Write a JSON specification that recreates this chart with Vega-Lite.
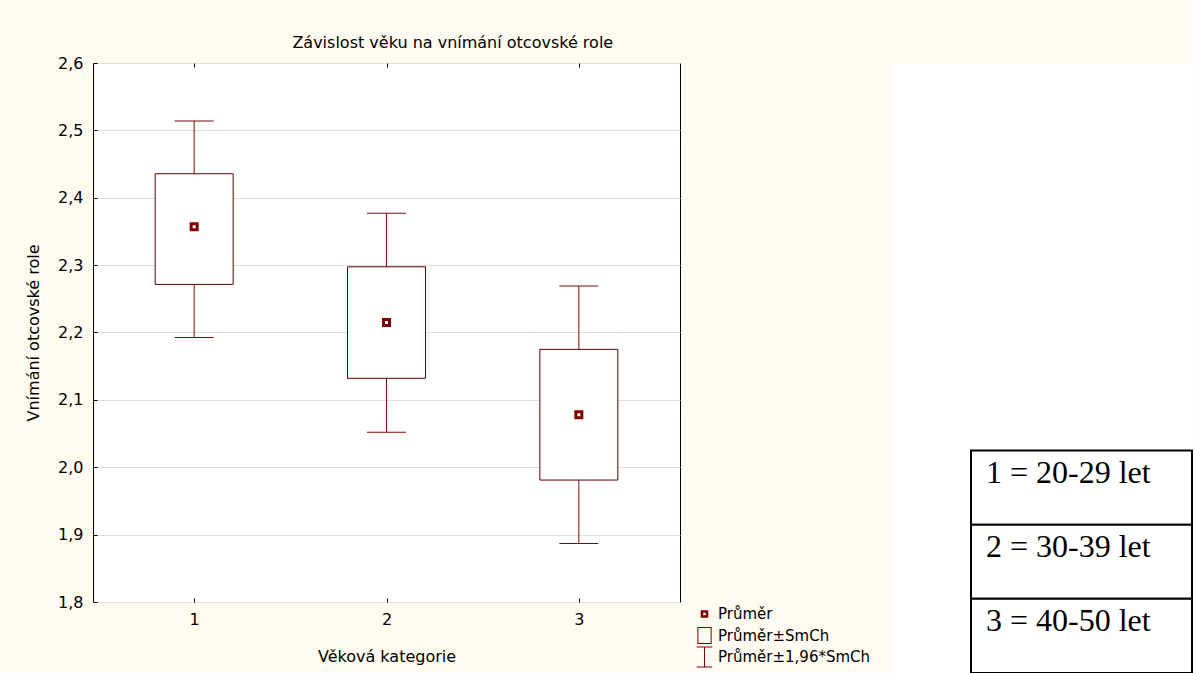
{
  "$schema": "https://vega.github.io/schema/vega-lite/v6.json",
  "background": "#fffbf0",
  "padding": {"left": 25, "top": 34, "right": 0, "bottom": 0},
  "spacing": 211,
  "config": {
    "font": "DejaVu Sans"
  },
  "hconcat": [
    {
      "width": 587,
      "height": 539,
      "view": {"stroke": "black", "strokeWidth": 1, "fill": "white"},
      "title": {
        "text": "Závislost věku na vnímání otcovské role",
        "font": "DejaVu Sans",
        "fontSize": 16,
        "fontWeight": "normal",
        "color": "black",
        "anchor": "middle",
        "frame": "bounds",
        "dx": 100,
        "offset": 4
      },
      "resolve": {"axis": {"x": "independent"}},
      "data": {
        "values": [
          {"kat": 1, "mean": 2.357, "se_lo": 2.2714, "se_hi": 2.4356, "ci_lo": 2.1926, "ci_hi": 2.514},
          {"kat": 2, "mean": 2.215, "se_lo": 2.132, "se_hi": 2.2975, "ci_lo": 2.052, "ci_hi": 2.377},
          {"kat": 3, "mean": 2.078, "se_lo": 1.981, "se_hi": 2.175, "ci_lo": 1.887, "ci_hi": 2.269}
        ]
      },
      "encoding": {
        "x": {
          "field": "kat",
          "type": "quantitative",
          "scale": {"domain": [0.5, 3.5], "nice": false, "zero": false},
          "axis": null
        }
      },
      "layer": [
        {
          "mark": {"type": "rule", "color": "#7a0c0c", "strokeWidth": 1},
          "encoding": {
            "x": {
              "field": "kat",
              "type": "quantitative",
              "scale": {"domain": [0.5, 3.5], "nice": false, "zero": false},
              "axis": {
                "orient": "bottom",
                "title": "Věková kategorie",
                "values": [1, 2, 3],
                "format": "d",
                "grid": false,
                "domain": false,
                "ticks": true,
                "tickSize": -4,
                "tickColor": "black",
                "labelPadding": 13,
                "labelFont": "DejaVu Sans",
                "labelFontSize": 16,
                "labelColor": "black",
                "titleFont": "DejaVu Sans",
                "titleFontSize": 16,
                "titleFontWeight": "normal",
                "titleColor": "black",
                "titlePadding": 21
              }
            },
            "y": {
              "field": "ci_lo",
              "type": "quantitative",
              "scale": {"domain": [1.8, 2.6], "nice": false, "zero": false},
              "axis": {
                "title": "Vnímání otcovské role",
                "values": [1.8, 1.9, 2.0, 2.1, 2.2, 2.3, 2.4, 2.5, 2.6],
                "labelExpr": "replace(format(datum.value, '.1f'), '.', ',')",
                "grid": true,
                "gridColor": "#dcdcdc",
                "gridWidth": 1,
                "domain": false,
                "ticks": true,
                "tickSize": -4,
                "tickColor": "black",
                "labelPadding": 14,
                "labelFont": "DejaVu Sans",
                "labelFontSize": 16,
                "labelColor": "black",
                "titleFont": "DejaVu Sans",
                "titleFontSize": 16,
                "titleFontWeight": "normal",
                "titleColor": "black",
                "titlePadding": 16
              }
            },
            "y2": {"field": "ci_hi"}
          }
        },
        {
          "mark": {"type": "tick", "orient": "horizontal", "size": 39, "thickness": 1, "color": "#7a0c0c", "opacity": 1},
          "encoding": {
            "x": {
              "field": "kat",
              "type": "quantitative",
              "scale": {"domain": [0.5, 3.5], "nice": false, "zero": false},
              "axis": {
                "orient": "top",
                "title": null,
                "values": [1, 2, 3],
                "labels": false,
                "grid": false,
                "domain": false,
                "ticks": true,
                "tickSize": -4,
                "tickColor": "black"
              }
            },
            "y": {"field": "ci_hi", "type": "quantitative"}
          }
        },
        {
          "mark": {"type": "tick", "orient": "horizontal", "size": 39, "thickness": 1, "color": "#7a0c0c", "opacity": 1},
          "encoding": {"y": {"field": "ci_lo", "type": "quantitative"}}
        },
        {
          "mark": {"type": "bar", "width": 78, "fill": "white", "stroke": "#5a0000", "strokeWidth": 1, "opacity": 1},
          "encoding": {
            "y": {"field": "se_lo", "type": "quantitative"},
            "y2": {"field": "se_hi"}
          }
        },
        {
          "mark": {"type": "point", "filled": true, "size": 625, "color": "#800000", "strokeWidth": 0, "opacity": 1},
          "encoding": {
            "y": {"field": "mean", "type": "quantitative"},
            "shape": {
              "datum": "Průměr",
              "scale": {
                "domain": ["Průměr", "Průměr±SmCh", "Průměr±1,96*SmCh"],
                "range": [
                  "M-0.36,-0.36H0.36V0.36H-0.36Z M-0.12,-0.12V0.12H0.12V-0.12Z",
                  "M-0.68,-0.8H0.68V0.8H-0.68Z M-0.584,-0.704V0.704H0.584V-0.704Z",
                  "M-0.74,-1H0.74V-0.904H-0.74Z M-0.048,-0.904H0.048V0.904H-0.048Z M-0.74,0.904H0.74V1H-0.74Z"
                ]
              },
              "legend": {
                "title": null,
                "orient": "none",
                "legendX": 601,
                "legendY": 540.5,
                "padding": 0,
                "symbolSize": 441,
                "symbolFillColor": "#7a0a0a",
                "symbolStrokeWidth": 0,
                "symbolOpacity": 1,
                "rowPadding": 2.5,
                "labelOffset": 3,
                "labelFont": "DejaVu Sans",
                "labelFontSize": 15,
                "labelColor": "black"
              }
            }
          }
        }
      ]
    },
    {
      "width": 300,
      "height": 610,
      "view": {"stroke": null, "fill": "white"},
      "data": {
        "values": [
          {"label": "1 = 20-29 let"},
          {"label": "2 = 30-39 let"},
          {"label": "3 = 40-50 let"}
        ]
      },
      "encoding": {
        "y": {
          "field": "label",
          "type": "nominal",
          "axis": null,
          "scale": {
            "domain": [" ", "  ", "   ", "    ", "     ", "1 = 20-29 let", "2 = 30-39 let", "3 = 40-50 let"],
            "paddingInner": 0,
            "paddingOuter": 0.1133,
            "align": 1
          }
        }
      },
      "layer": [
        {
          "mark": {"type": "rect", "fill": "white", "stroke": "black", "strokeWidth": 2},
          "encoding": {
            "x": {"datum": 0.2633, "type": "quantitative", "scale": {"domain": [0, 1], "nice": false, "zero": false}, "axis": null},
            "x2": {"datum": 1}
          }
        },
        {
          "mark": {"type": "text", "font": "Liberation Serif", "fontSize": 32, "color": "black", "align": "left", "baseline": "alphabetic", "dx": 15, "dy": 32},
          "encoding": {
            "x": {"datum": 0.2633, "type": "quantitative"},
            "y": {"field": "label", "type": "nominal", "bandPosition": 0},
            "text": {"field": "label"}
          }
        }
      ]
    }
  ]
}
